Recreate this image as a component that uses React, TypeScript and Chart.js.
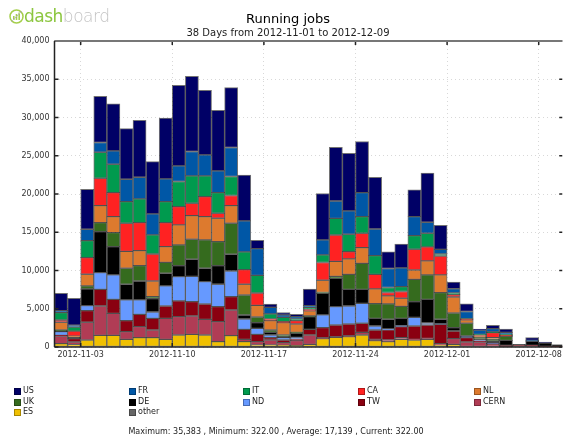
import React, { useEffect, useRef } from "react";
import { Chart, registerables } from "chart.js";

Chart.register(...registerables);

// ---- Data ----
const days = [
  "2012-11-01", "2012-11-02", "2012-11-03", "2012-11-04", "2012-11-05", "2012-11-06", "2012-11-07",
  "2012-11-08", "2012-11-09", "2012-11-10", "2012-11-11", "2012-11-12", "2012-11-13", "2012-11-14",
  "2012-11-15", "2012-11-16", "2012-11-17", "2012-11-18", "2012-11-19", "2012-11-20", "2012-11-21",
  "2012-11-22", "2012-11-23", "2012-11-24", "2012-11-25", "2012-11-26", "2012-11-27", "2012-11-28",
  "2012-11-29", "2012-11-30", "2012-12-01", "2012-12-02", "2012-12-03", "2012-12-04", "2012-12-05",
  "2012-12-06", "2012-12-07", "2012-12-08", "2012-12-09",
];

const tickDays = ["2012-11-03", "2012-11-10", "2012-11-17", "2012-11-24", "2012-12-01", "2012-12-08"];
const yTicks = [0, 5000, 10000, 15000, 20000, 25000, 30000, 35000, 40000];

const US = [2270, 3520, 5230, 6030, 6160, 6610, 7440, 6840, 7960, 10530, 9830, 8440, 7910, 7830, 5980, 1090, 430, 310, 300, 2180, 6060, 7020, 7540, 6670, 6760, 2180, 3100, 3490, 6410, 3150, 880, 1010, 150, 430, 430, 0, 350, 120, 0];
const FR = [260, 260, 1480, 1270, 1750, 2920, 2830, 2750, 2960, 2050, 3180, 2740, 2830, 3790, 4050, 3490, 870, 310, 310, 260, 1960, 2270, 3050, 3140, 3480, 2480, 2440, 2490, 1440, 610, 560, 950, 550, 430, 270, 0, 130, 0, 0];
const IT = [960, 520, 2220, 3400, 3700, 2830, 3100, 2490, 2750, 3270, 3580, 2710, 2710, 2490, 2310, 2310, 660, 570, 220, 200, 1010, 2180, 2270, 2180, 2450, 660, 650, 1780, 1790, 260, 220, 50, 150, 100, 100, 0, 0, 0, 0];
const CA = [300, 650, 2180, 3570, 3140, 3670, 3660, 3530, 3140, 2400, 1610, 2610, 650, 1310, 1920, 1610, 220, 130, 430, 220, 2310, 3440, 960, 1880, 1910, 440, 880, 2710, 1830, 2480, 300, 100, 100, 650, 50, 0, 0, 0, 0];
const NL = [1010, 130, 1530, 2230, 2100, 2220, 1960, 2050, 2050, 2620, 3100, 3050, 3050, 2310, 1400, 1530, 1220, 1610, 1090, 650, 1610, 1960, 2010, 2050, 1920, 1050, 1050, 1220, 1830, 2310, 2100, 440, 150, 220, 100, 0, 0, 0, 0];
const UK = [90, 0, 390, 1170, 1830, 2090, 2010, 260, 1430, 2700, 2610, 3710, 3140, 4060, 2620, 740, 300, 220, 130, 100, 100, 260, 1960, 3400, 1920, 2000, 1570, 2920, 3190, 3480, 1910, 1660, 200, 200, 520, 0, 0, 0, 0];
const DE = [130, 200, 2180, 5370, 3700, 2050, 2480, 1740, 1660, 1440, 2230, 1740, 2440, 2180, 520, 740, 350, 130, 530, 1660, 2830, 3700, 2180, 1830, 1000, 1270, 960, 2050, 3090, 610, 440, 50, 200, 300, 650, 100, 520, 450, 280];
const ND = [470, 0, 650, 2180, 3190, 2710, 1880, 830, 2620, 3180, 3310, 2930, 2920, 3360, 1350, 780, 350, 300, 210, 0, 1660, 2400, 2350, 2610, 530, 130, 130, 1130, 260, 50, 0, 170, 100, 50, 0, 0, 0, 0, 0];
const TW = [90, 440, 1530, 2180, 1830, 1430, 1610, 1530, 1610, 2050, 1880, 2000, 1970, 1740, 1310, 960, 300, 350, 220, 740, 1310, 1530, 1530, 1180, 1220, 1310, 1440, 1750, 1750, 2530, 1000, 570, 100, 150, 170, 250, 220, 80, 42];
const CERN = [1000, 350, 2310, 3830, 2870, 1010, 1440, 1000, 2750, 2400, 2390, 2050, 2610, 3360, 300, 440, 660, 350, 660, 1220, 130, 90, 130, 350, 170, 220, 220, 80, 130, 190, 740, 650, 650, 300, 50, 0, 0, 0, 0];
const ES = [440, 300, 920, 1530, 1530, 1000, 1220, 1220, 1000, 1570, 1660, 1570, 700, 1480, 700, 260, 260, 220, 170, 350, 1090, 1260, 1350, 1570, 830, 700, 1000, 920, 1000, 250, 350, 0, 0, 0, 0, 0, 0, 0, 0];
const other = [0, 0, 0, 0, 0, 0, 0, 0, 0, 0, 0, 0, 0, 0, 0, 0, 0, 0, 0, 0, 0, 0, 0, 0, 0, 0, 0, 0, 0, 0, 0, 0, 0, 0, 0, 0, 0, 0, 0];

const footerText = "Maximum: 35,383 , Minimum: 322.00 , Average: 17,139 , Current: 322.00";

// ---- Styles ----
const seriesStyle: Record<string, string> = {
  US: "#000066",
  FR: "#0057a6",
  IT: "#009a4e",
  CA: "#ff2222",
  NL: "#dd7a2e",
  UK: "#356b1e",
  DE: "#000000",
  ND: "#6699ff",
  TW: "#8a0010",
  CERN: "#b03c55",
  ES: "#f0c000",
  other: "#666666",
};

// bottom -> top stacking order
const stackOrder: [string, number[]][] = [
  ["other", other],
  ["ES", ES],
  ["CERN", CERN],
  ["TW", TW],
  ["ND", ND],
  ["DE", DE],
  ["UK", UK],
  ["NL", NL],
  ["CA", CA],
  ["IT", IT],
  ["FR", FR],
  ["US", US],
];

const legendOrder = ["US", "FR", "IT", "CA", "NL", "UK", "DE", "ND", "TW", "CERN", "ES", "other"];

const FONT = "'DejaVu Sans', sans-serif";
const tickPositions = tickDays.map((d) => days.indexOf(d));

const framePlugin = {
  id: "frame",
  afterDatasetsDraw(chart: any) {
    const { ctx, chartArea: a, scales } = chart;
    const line = (x1: number, y1: number, x2: number, y2: number) => {
      ctx.beginPath();
      ctx.moveTo(x1, y1);
      ctx.lineTo(x2, y2);
      ctx.stroke();
    };
    ctx.save();
    ctx.strokeStyle = "#222";
    ctx.lineWidth = 1.5;
    yTicks.forEach((v) => {
      const y = scales.y.getPixelForValue(v);
      line(a.left, y, a.left + 4, y);
      line(a.right - 3, y, a.right, y);
    });
    tickPositions.forEach((v) => {
      const x = scales.x.getPixelForValue(v);
      line(x, a.top, x, a.top + 4);
      line(x, a.bottom - 4, x, a.bottom);
    });
    ctx.strokeStyle = "#777";
    ctx.lineWidth = 2;
    line(a.left, a.top, a.right, a.top);
    ctx.strokeStyle = "#222";
    ctx.lineWidth = 1.5;
    line(a.left, a.top, a.left, a.bottom);
    line(a.left, a.bottom, a.right, a.bottom);
    ctx.restore();
  },
};

export default function App() {
  const ref = useRef<HTMLCanvasElement | null>(null);

  useEffect(() => {
    document.body.style.margin = "0";
    const canvas = ref.current;
    if (!canvas) return;
    const datasets = stackOrder.map(([name, vals]) => ({
      label: name,
      data: vals.map((v, i) => ({ x: i + 0.5, y: v })),
      backgroundColor: seriesStyle[name],
      borderColor: "rgba(0,0,0,0.55)",
      borderWidth: 1,
      borderSkipped: false,
      barPercentage: 1,
      categoryPercentage: 1,
    }));
    const chart = new Chart(canvas, {
      type: "bar",
      data: { datasets } as any,
      options: {
        animation: false,
        responsive: false,
        maintainAspectRatio: false,
        layout: { padding: { top: 41, right: 1, left: 0, bottom: 0 } },
        plugins: { legend: { display: false }, tooltip: { enabled: false }, title: { display: false } },
        scales: {
          x: {
            type: "linear",
            stacked: true,
            offset: false,
            min: 0,
            max: 38.8,
            afterBuildTicks: (s: any) => {
              s.ticks = tickPositions.map((v) => ({ value: v }));
            },
            afterFit: (s: any) => {
              s.height = 91;
            },
            ticks: {
              autoSkip: false,
              maxRotation: 0,
              padding: 3,
              color: "#333",
              font: { family: FONT, size: 8 },
              callback: (v: any) => days[Math.round(Number(v))] ?? "",
            },
            grid: { color: "#d8d8d8", lineWidth: 1, drawTicks: false, offset: false },
            border: { display: false, dash: [1, 3] },
          },
          y: {
            stacked: true,
            min: 0,
            max: 40000,
            afterBuildTicks: (s: any) => {
              s.ticks = yTicks.map((v) => ({ value: v }));
            },
            afterFit: (s: any) => {
              s.width = 54.5;
            },
            ticks: {
              padding: 5,
              color: "#333",
              font: { family: FONT, size: 8 },
              callback: (v: any) => Number(v).toLocaleString("en-US"),
            },
            grid: { color: "#d8d8d8", lineWidth: 1, drawTicks: false },
            border: { display: false, dash: [1, 3] },
          },
        },
      } as any,
      plugins: [framePlugin],
    });
    return () => chart.destroy();
  }, []);

  const colX = [14, 129, 243, 358, 474];
  const rowY = [391, 402, 412];

  return (
    <div style={{ position: "relative", width: 565, height: 438, background: "#fff", overflow: "hidden", fontFamily: FONT }}>
      <canvas ref={ref} width={565} height={438} style={{ position: "absolute", left: 0, top: 0, width: 565, height: 438 }} />
      {/* logo */}
      <div style={{ position: "absolute", left: 9, top: 7, height: 18, display: "flex", alignItems: "center" }}>
        <svg width="15" height="15" viewBox="0 0 15 15">
          <circle cx="7.5" cy="7.5" r="6.5" fill="none" stroke="#a5cf4c" strokeWidth="1.5" />
          <rect x="4" y="7" width="1.6" height="4" fill="#a5cf4c" />
          <rect x="6.7" y="5" width="1.6" height="6" fill="#a5cf4c" />
          <rect x="9.4" y="3.5" width="1.6" height="7.5" fill="#a5cf4c" />
          <line x1="2" y1="13" x2="13" y2="2" stroke="#b8b8b8" strokeWidth="1" />
        </svg>
        <span style={{ fontSize: 17, color: "#8cc63f", fontFamily: "'DejaVu Sans', sans-serif", letterSpacing: -0.5, lineHeight: "18px" }}>dash</span>
        <span style={{ fontSize: 17, color: "#c4c4c4", fontFamily: "'DejaVu Sans', sans-serif", letterSpacing: -0.5, lineHeight: "18px", fontWeight: 300 }}>board</span>
      </div>
      {/* titles */}
      <div style={{ position: "absolute", left: 0, width: 576, top: 12, textAlign: "center", fontSize: 13, lineHeight: "14px", color: "#000" }}>Running jobs</div>
      <div style={{ position: "absolute", left: 0, width: 576, top: 27, textAlign: "center", fontSize: 10, lineHeight: "11px", color: "#222" }}>38 Days from 2012-11-01 to 2012-12-09</div>
      {/* legend */}
      {legendOrder.map((name, i) => {
        const c = i % 5;
        const r = Math.floor(i / 5);
        return (
          <div key={name} style={{ position: "absolute", left: colX[c], top: rowY[r] - 4, height: 8, display: "flex", alignItems: "center" }}>
            <div style={{ width: 7, height: 7, background: seriesStyle[name], marginRight: 2, border: "0.5px solid rgba(0,0,0,0.3)", boxSizing: "border-box" }} />
            <span style={{ fontSize: 8, lineHeight: "8px", color: "#222" }}>{name}</span>
          </div>
        );
      })}
      <div style={{ position: "absolute", left: 0, width: 552, top: 427, textAlign: "center", fontSize: 8, lineHeight: "10px", color: "#222" }}>{footerText}</div>
    </div>
  );
}
